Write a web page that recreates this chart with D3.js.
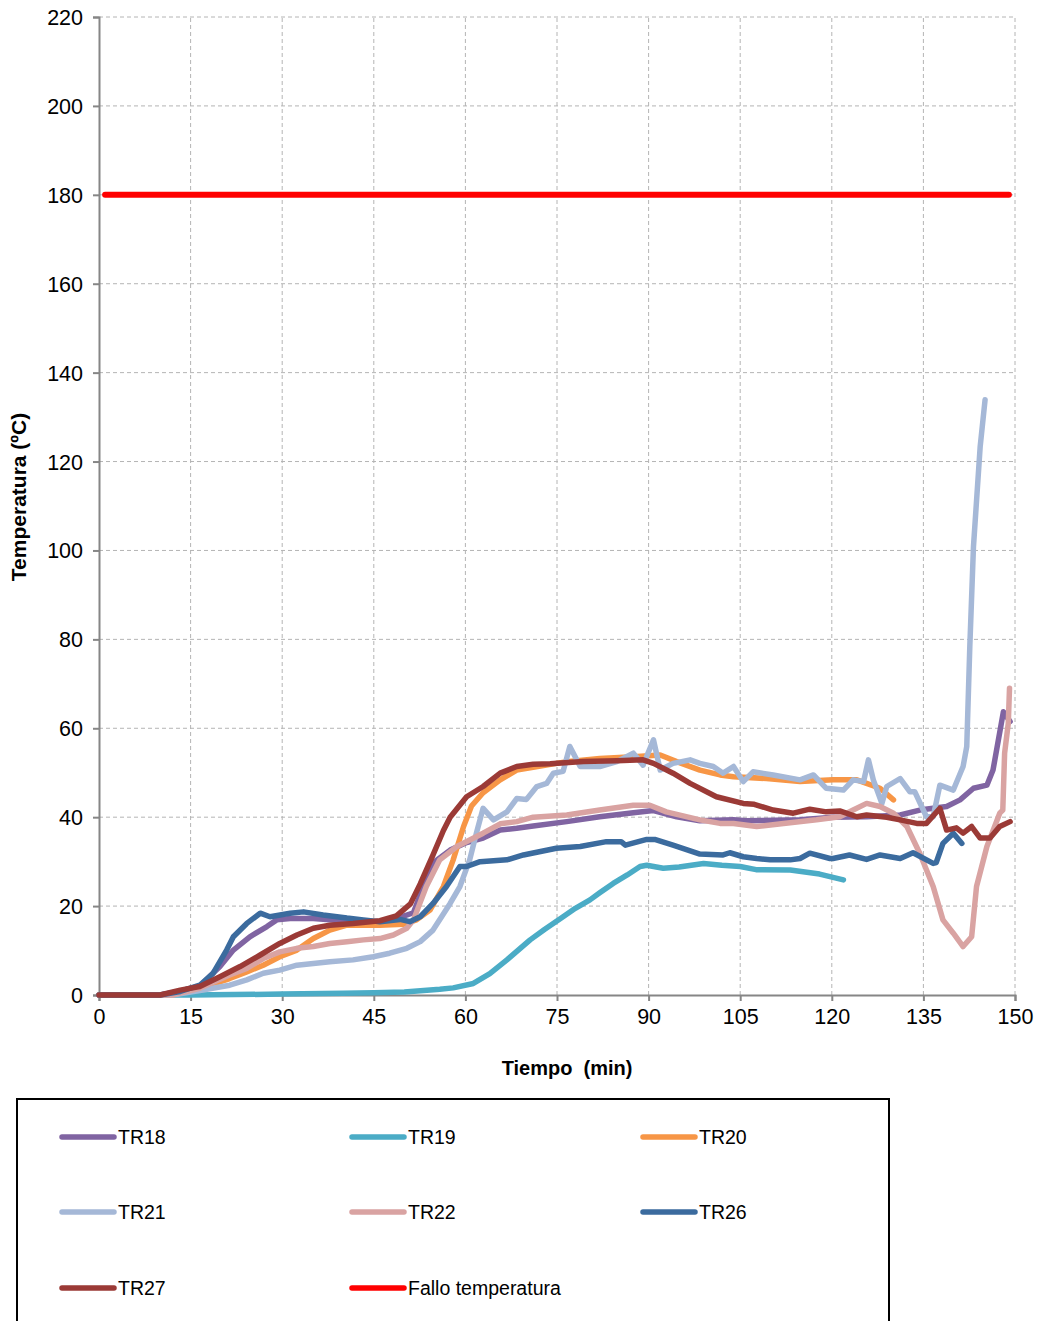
<!DOCTYPE html>
<html>
<head>
<meta charset="utf-8">
<script src="https://cdn.jsdelivr.net/npm/d3@7"></script>
<style>
  html, body { margin: 0; padding: 0; background: #fff; }
  svg { display: block; }
  text { font-family: "Liberation Sans", Arial, sans-serif; fill: #000; }
</style>
</head>
<body>
<svg id="chart" width="1038" height="1321"></svg>
<script>
// ---- data (time in min, temperature in ºC) ----
const xTicks = [0, 15, 30, 45, 60, 75, 90, 105, 120, 135, 150];
const yTicks = [0, 20, 40, 60, 80, 100, 120, 140, 160, 180, 200, 220];

const tr18 = [[0,0],[10,0],[13,0.8],[16.5,2],[19.8,6.4],[22,10.1],[24.7,13.1],[27.5,15.4],[29.1,16.9],[31.3,17.2],[35.1,17.2],[37.8,16.9],[40.6,16.5],[46,16.5],[48.7,17.2],[51.5,18.5],[53,24],[54.7,29.7],[57.5,32.6],[60.2,34.3],[62.9,35.3],[65.7,37.1],[68.4,37.5],[71.1,38],[76.6,39],[82,40.1],[87.5,41],[90.8,41.5],[94.6,40.1],[98.4,39.2],[103.9,39.4],[106,39.2],[114.8,39.4],[120.2,40],[125.7,40.1],[131.2,40.5],[134.4,41.6],[138.8,42.4],[141,43.9],[143.2,46.5],[145.4,47.2],[146.4,50.6],[148.1,63.7],[149.2,61.5]];

const tr19 = [[0,0],[15,0],[30,0.2],[40,0.4],[45,0.5],[50,0.7],[55.8,1.3],[58,1.6],[61.3,2.6],[64,4.8],[66.8,7.9],[70.6,12.4],[73,14.8],[76,17.6],[78,19.5],[80.4,21.4],[82,23],[84.2,25.1],[86.5,27],[88.6,28.9],[89.7,29.2],[92.4,28.5],[95,28.8],[99,29.6],[102,29.2],[105,28.9],[107.6,28.2],[113.2,28.1],[115.9,27.6],[118,27.2],[121.9,25.9]];

const tr20 = [[0,0],[12,0],[16.5,1.5],[21.4,3.7],[24.2,5.2],[26.9,6.7],[29.6,8.6],[32.4,10.1],[35.1,12.7],[37.8,14.6],[40.6,15.7],[46,15.7],[49.8,15.9],[52,16.9],[54.2,19.1],[56.4,24.4],[58,30.4],[59.7,37.9],[61,42.5],[62.9,45.5],[65.7,48.4],[68.4,50.6],[71.1,51.2],[76.6,52.5],[82,53.2],[87.5,53.6],[91.9,54],[94.6,52.5],[98.4,50.6],[101.7,49.5],[103.9,49.1],[109.3,48.7],[114.8,48],[120.2,48.4],[124.1,48.4],[125.7,47.6],[127.9,46.5],[130.1,43.9]];

const tr21 = [[0,0],[12,0],[16.5,1],[21.4,2.2],[24.2,3.4],[26.9,4.9],[29.6,5.6],[32.4,6.7],[37.8,7.5],[41.6,7.9],[44.9,8.6],[47.6,9.4],[50.4,10.5],[52.6,12],[54.7,14.6],[57.5,20.6],[59.1,24.4],[60.7,30.4],[61.8,36.4],[62.9,42],[64.6,39.4],[66.8,41.2],[68.4,44.2],[70,44],[71.7,46.9],[73.3,47.6],[74.4,49.9],[76,50.3],[77.1,55.9],[78.8,51.4],[82,51.4],[84.8,52.5],[87.5,54.4],[89.1,51.7],[90.8,57.4],[91.9,50.6],[94,52.1],[96.8,52.9],[98.4,52.1],[100.6,51.4],[102.2,49.9],[103.9,51.4],[105.5,48],[107.1,50.2],[110.4,49.5],[114.8,48.4],[117,49.5],[119.1,46.5],[121.9,46.1],[123.5,48.4],[125.2,48],[126,52.9],[126.8,48.4],[128.2,43.1],[129,46.9],[131.2,48.7],[132.8,45.7],[133.6,45.7],[135.5,40.1],[136.6,40.1],[137.7,47.2],[139.9,46.1],[141.5,51.4],[142.1,55.9],[142.6,78.4],[143.2,100.9],[144.3,123.4],[145.1,133.9]];

const tr22 = [[0,0],[12,0],[16.5,1.5],[21.4,4.5],[24.2,6],[26.9,8.2],[29.6,9.7],[32.4,10.5],[35.1,10.9],[37.8,11.6],[40.6,12],[43.3,12.4],[46,12.7],[48.2,13.5],[50.4,15],[51.5,16.9],[53.6,24.4],[55.8,30.4],[58.6,33.4],[62.9,36.4],[65.7,38.5],[68.4,39],[71.1,40],[76.6,40.5],[82,41.6],[87.5,42.7],[90.2,42.7],[92.9,41.2],[98.4,39.4],[101.7,38.6],[103.9,38.6],[107.7,37.9],[112.1,38.6],[117.5,39.4],[121.3,40.1],[123.5,41.6],[125.7,43.1],[127.9,42.4],[130.1,40.9],[132.3,37.9],[134.4,31.9],[136.6,24.4],[138.2,16.9],[139.9,13.9],[141.5,10.9],[142.9,13.1],[143.7,24.4],[145.4,33.4],[147.5,40.9],[148,41.6],[148.3,54.4],[148.9,61.1],[149.1,69]];

const tr26 = [[0,0],[10,0],[13.3,0.8],[16.5,2.2],[18.7,4.9],[20.9,10.1],[22,13.1],[24.2,16.1],[26.4,18.4],[28,17.6],[31.3,18.4],[33.5,18.7],[36.7,18],[40.6,17.3],[43.3,16.9],[46,16.5],[49.3,17],[50.9,16.5],[52.6,17.6],[54.7,20.6],[56.9,24.4],[59.1,28.9],[60.2,28.9],[62.4,30],[66.8,30.4],[69.5,31.5],[74.9,33],[78.8,33.4],[83.1,34.5],[85.5,34.5],[86.2,33.7],[89.7,35],[91,35],[94,33.7],[98.4,31.7],[102.2,31.5],[103.3,32],[105.5,31.1],[107.7,30.7],[109.9,30.4],[113.2,30.4],[114.8,30.7],[116.4,31.9],[119.7,30.7],[120.2,30.7],[122.9,31.5],[125.7,30.5],[127.9,31.5],[131.2,30.7],[133.3,32],[136.6,29.6],[137.1,29.8],[138.2,34.1],[139.9,36.4],[141.3,34.1]];

const tr27 = [[0,0],[10,0],[13.3,1.1],[16.5,1.9],[19.8,4.1],[23.1,6.4],[26.4,9],[29.6,11.6],[32.4,13.5],[35.1,15],[37.8,15.7],[41.6,16.1],[46,16.7],[48.7,17.8],[51,20.5],[52.6,25],[54.7,31.5],[56.4,37],[57.5,40],[60.2,44.6],[62.9,46.9],[65.7,49.9],[68.4,51.4],[71.1,51.9],[73.9,52],[79.3,52.5],[84.8,52.7],[89.1,52.9],[90.8,52.1],[94,49.9],[96.8,47.6],[101.1,44.6],[105.5,43.1],[107.3,42.9],[110.4,41.6],[113.7,40.9],[116.4,41.8],[119.1,41.2],[121.3,41.4],[124.1,40.1],[125.7,40.5],[129,40],[131.2,39.4],[133.9,38.6],[135.5,38.6],[137.7,42],[138.8,37.1],[140.4,37.6],[141.5,36.4],[142.9,37.9],[144.3,35.3],[145.9,35.3],[147.5,37.9],[149.2,39]];

const fallo = [[1,180],[149,180]];

const seriesNames = ["TR18", "TR19", "TR20", "TR21", "TR22", "TR26", "TR27", "Fallo temperatura"];
const seriesData = [tr18, tr19, tr20, tr21, tr22, tr26, tr27, fallo];
const seriesColors = ["#8064A2", "#4BACC6", "#F79646", "#A5B8D7", "#D9A3A2", "#3B6B9E", "#9B3A36", "#FF0000"];

// ---- layout ----
const svg = d3.select("#chart");
const x = d3.scaleLinear().domain([0, 150]).range([99, 1015]);
const y = d3.scaleLinear().domain([0, 220]).range([995, 17]);

// gridlines
const grid = svg.append("g");
grid.selectAll("line.h").data(yTicks.filter(d => d > 0)).join("line")
  .attr("x1", x(0)).attr("x2", x(150))
  .attr("y1", d => y(d)).attr("y2", d => y(d))
  .attr("stroke", "#b4b4b4").attr("stroke-width", 1).attr("stroke-dasharray", "4,3");
grid.selectAll("line.v").data(xTicks.filter(d => d > 0)).join("line")
  .attr("x1", d => x(d)).attr("x2", d => x(d))
  .attr("y1", y(0)).attr("y2", y(220))
  .attr("stroke", "#b4b4b4").attr("stroke-width", 1).attr("stroke-dasharray", "4,3");

// axes
const xAxis = d3.axisBottom(x).tickValues(xTicks).tickSize(6).tickPadding(8).tickFormat(d3.format("d"));
const yAxis = d3.axisLeft(y).tickValues(yTicks).tickSize(6).tickPadding(10).tickFormat(d3.format("d"));

const gx = svg.append("g").attr("transform", `translate(0,${y(0)})`).call(xAxis);
const gy = svg.append("g").attr("transform", `translate(${x(0)},0)`).call(yAxis);
[gx, gy].forEach(g => {
  g.select(".domain").attr("stroke", "#868686").attr("stroke-width", 2);
  g.selectAll(".tick line").attr("stroke", "#868686").attr("stroke-width", 2);
  g.selectAll(".tick text").style("font-family", '"Liberation Sans", Arial, sans-serif')
    .style("font-size", "21.5px").attr("fill", "#000");
});
gy.selectAll(".tick text").attr("dy", "0.35em");
gx.selectAll(".tick text").attr("dy", "0.68em");

// series lines
const line = d3.line().x(d => x(d[0])).y(d => y(d[1]));
svg.append("g").selectAll("path").data(seriesData).join("path")
  .attr("d", d => line(d))
  .attr("fill", "none")
  .attr("stroke", (d, i) => seriesColors[i])
  .attr("stroke-width", (d, i) => i === 7 ? 6 : 5.5)
  .attr("stroke-linejoin", "round")
  .attr("stroke-linecap", "round");

// axis titles
svg.append("text")
  .attr("x", 567).attr("y", 1075)
  .attr("text-anchor", "middle")
  .style("font-size", "20px").style("font-weight", "bold")
  .style("white-space", "pre")
  .text("Tiempo  (min)");

svg.append("text")
  .attr("transform", "translate(26,497) rotate(-90)")
  .attr("text-anchor", "middle")
  .style("font-size", "21px").style("font-weight", "bold")
  .text("Temperatura (ºC)");

// legend
const legend = svg.append("g");
legend.append("rect")
  .attr("x", 17).attr("y", 1099).attr("width", 872).attr("height", 260)
  .attr("fill", "#fff").attr("stroke", "#000").attr("stroke-width", 2);

const colX = [62, 352, 643];
const rowY = [1137, 1212, 1288];
const items = legend.selectAll("g.item").data(seriesNames).join("g")
  .attr("transform", (d, i) => `translate(${colX[i % 3]},${rowY[Math.floor(i / 3)]})`);
items.append("line")
  .attr("x1", 0).attr("x2", 52).attr("y1", 0).attr("y2", 0)
  .attr("stroke", (d, i) => seriesColors[i])
  .attr("stroke-width", 5.5).attr("stroke-linecap", "round");
items.append("text")
  .attr("x", 56).attr("y", 0).attr("dy", "0.35em")
  .style("font-size", "19.5px")
  .text(d => d);
</script>
</body>
</html>
